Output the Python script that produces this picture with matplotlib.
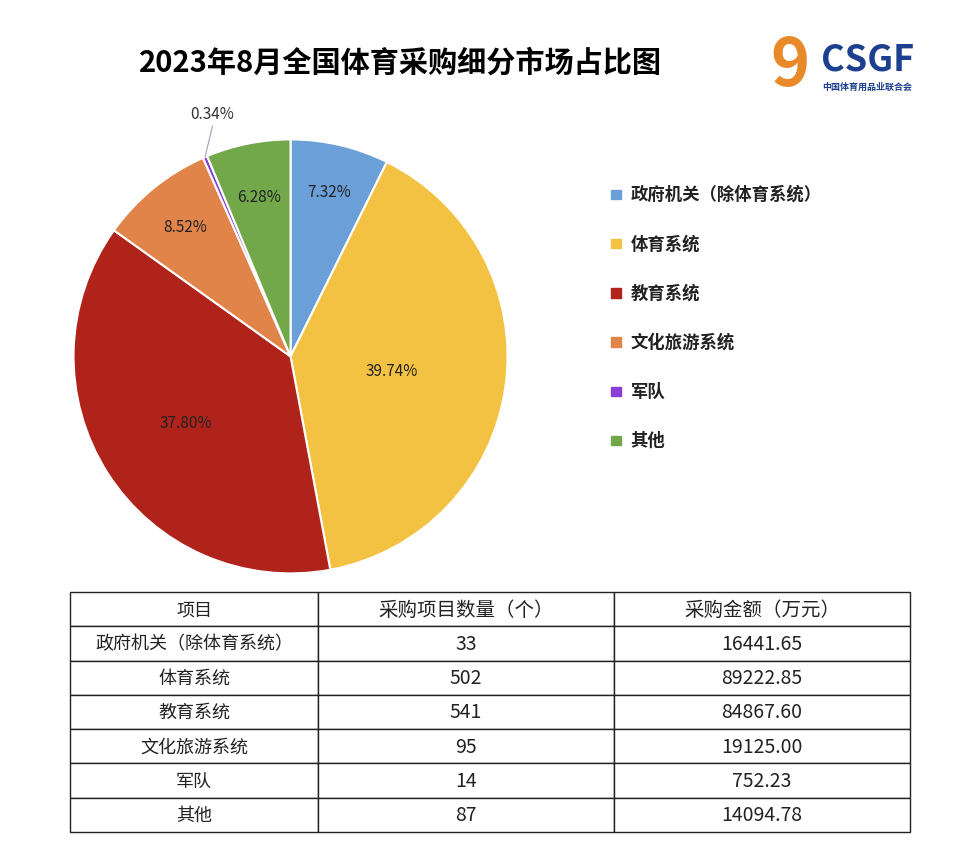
import numpy as np
import matplotlib.pyplot as plt

plt.rcParams['font.family'] = ['Noto Sans CJK SC', 'DejaVu Sans']

categories = ['政府机关（除体育系统）', '体育系统', '教育系统', '文化旅游系统', '军队', '其他']
counts = [33, 502, 541, 95, 14, 87]
amounts = [16441.65, 89222.85, 84867.60, 19125.00, 752.23, 14094.78]
pct_labels = ['7.32%', '39.74%', '37.80%', '8.52%', '0.34%', '6.28%']
colors = ['#6a9fd8', '#f4c242', '#b0231a', '#e0844a', '#8a3fd8', '#73a84a']
label_r = [0.78, 0.47, 0.57, 0.77, None, 0.75]

fig = plt.figure(figsize=(9.75, 8.53), dpi=100)
fig.text(0.411, 0.927, '2023年8月全国体育采购细分市场占比图', ha='center', va='center',
         fontsize=21, fontweight='bold')

# logo stand-in
fig.text(0.842, 0.930, 'CSGF', ha='left', va='center', fontsize=26, fontweight='bold',
         color='#1d3f8f', style='italic')
fig.text(0.843, 0.898, '中国体育用品业联合会', ha='left', va='center', fontsize=6.5,
         fontweight='bold', color='#1d3f8f')
fig.text(0.810, 0.922, '9', ha='center', va='center', fontsize=48, fontweight='bold',
         color='#e88a2a')

ax = fig.add_axes([0.298 - 0.2226, 0.581 - 0.2544, 0.4452, 0.5088])
wedges, _ = ax.pie(amounts, colors=colors, startangle=90, counterclock=False,
                   wedgeprops=dict(edgecolor='white', linewidth=1.5))
ax.set_xlim(-1, 1)
ax.set_ylim(-1, 1)
ax.set_aspect('equal')
for w, lab, r in zip(wedges, pct_labels, label_r):
    ang = np.deg2rad((w.theta1 + w.theta2) / 2)
    if r is None:
        x0, y0 = np.cos(ang), np.sin(ang)
        ax.plot([x0, -0.36], [y0, 1.06], color='#a0a0b8', lw=0.8, clip_on=False)
        ax.text(-0.36, 1.12, lab, ha='center', va='center', fontsize=11, color='#333333')
    else:
        ax.text(r * np.cos(ang), r * np.sin(ang), lab, ha='center', va='center',
                fontsize=11, color='#222222')

# legend
for i, (c, name) in enumerate(zip(colors, categories)):
    y = 1 - (195 + i * 49.2) / 853
    fig.patches.append(plt.Rectangle((0.627, y - 0.006), 0.0095, 0.011,
                                     transform=fig.transFigure, color=c))
    fig.text(0.647, y, name, ha='left', va='center', fontsize=12.5, fontweight='bold',
             color='#222222')

# table
tax = fig.add_axes([70 / 975, 1 - 833 / 853, 840 / 975, 240 / 853])
tax.axis('off')
cells = [['项目', '采购项目数量（个）', '采购金额（万元）']]
for n, c, a in zip(categories, counts, amounts):
    cells.append([n, str(c), f'{a:.2f}'])
tbl = tax.table(cellText=cells, cellLoc='center', bbox=[0, 0, 1, 1],
                colWidths=[248, 296, 296])
tbl.auto_set_font_size(False)
for (r, c), cell in tbl.get_celld().items():
    cell.set_linewidth(1.0)
    cell.set_edgecolor('#222222')
    cell.get_text().set_fontsize(14 if c else 13)
    cell.get_text().set_color('#222222')

fig.savefig('out.png', dpi=100, facecolor='white')
